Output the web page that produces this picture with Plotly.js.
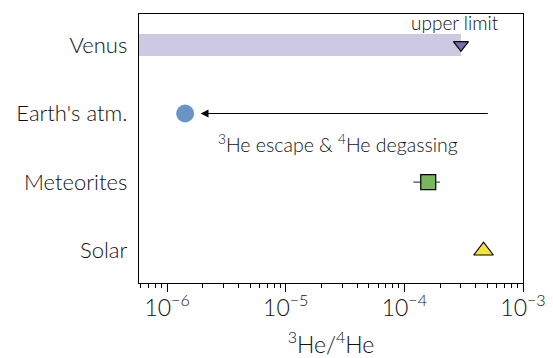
<!DOCTYPE html>
<html><head><meta charset="utf-8">
<script src="https://cdn.plot.ly/plotly-3.0.1.min.js"></script>
<style>body{margin:0;padding:0;background:#fff}#chart{width:553px;height:358px}</style>
</head><body><div id="chart"></div>
<script>
// Data
const categories = ["Solar", "Meteorites", "Earth's atm.", "Venus"];
const venusUpper = 3.0e-4;
const earthValue = 1.42e-6;
const meteoriteValue = 1.59e-4;
const meteoriteLow = 1.19e-4;
const meteoriteHigh = 2.0e-4;
const solarValue = 4.65e-4;
const arrowFrom = 5.2e-4;
const arrowTo = 1.92e-6;
const tickVals = [1e-6, 1e-5, 1e-4, 1e-3];
const tickText = ["10<sup>−6</sup>", "10<sup>−5</sup>", "10<sup>−4</sup>", "10<sup>−3</sup>"];

const yIdx = c => categories.indexOf(c);
const FONT = "Lato, 'Open Sans', sans-serif";
const TXT = "#111";
const W = 300;

const minorVals = [];
for (let e = -7; e <= -4; e++) for (let m = 2; m <= 9; m++) minorVals.push(m * Math.pow(10, e));

const traces = [
  { x: [1e-7, venusUpper], y: [yIdx("Venus"), yIdx("Venus")], mode: "lines",
    line: { color: "#cdc9e3", width: 22 }, hoverinfo: "skip" },
  { x: [venusUpper], y: [yIdx("Venus")], mode: "markers",
    marker: { symbol: "triangle-down", size: 13, color: "#7a6aae", line: { color: "#000", width: 1.2 } } },
  { x: [earthValue], y: [yIdx("Earth's atm.")], mode: "markers",
    marker: { symbol: "circle", size: 18, color: "#6895c6", line: { width: 0 } } },
  { x: [meteoriteValue], y: [yIdx("Meteorites")], mode: "markers",
    error_x: { type: "data", symmetric: false, array: [meteoriteHigh - meteoriteValue],
               arrayminus: [meteoriteValue - meteoriteLow], color: "#444", thickness: 1.2, width: 0 },
    marker: { symbol: "square", size: 15, color: "#7ab75c", line: { color: "#000", width: 1.2 } } },
  { x: [solarValue], y: [yIdx("Solar")], mode: "markers",
    marker: { symbol: "triangle-up", size: 17, color: "#f5e43a", line: { color: "#000", width: 1.2 } } }
];

const layout = {
  width: 553, height: 358,
  margin: { l: 139, r: 30, t: 14, b: 75 },
  paper_bgcolor: "#fff", plot_bgcolor: "#fff",
  showlegend: false,
  font: { family: FONT, color: TXT, weight: W },
  xaxis: {
    type: "log", range: [Math.log10(5.8e-7), -3],
    showgrid: false, zeroline: false,
    showline: true, linecolor: "#000", linewidth: 1.3, mirror: true,
    ticks: "outside", ticklen: 8, tickwidth: 1, tickcolor: "#000",
    tickmode: "array", tickvals: tickVals, ticktext: tickText,
    tickfont: { size: 23, family: FONT, color: TXT, weight: W }, ticklabelstandoff: -4,
    minor: { ticks: "outside", ticklen: 4, tickwidth: 1, tickcolor: "#000", tickmode: "array", tickvals: minorVals, showgrid: false },
    title: { text: "<sup>3</sup>He/<sup>4</sup>He", font: { size: 23, family: FONT, color: TXT, weight: W }, standoff: 22 }
  },
  yaxis: {
    range: [-0.47, 3.45],
    showgrid: false, zeroline: false,
    showline: true, linecolor: "#000", linewidth: 1.3, mirror: true,
    ticks: "", tickmode: "array", tickvals: [0, 1, 2, 3], ticktext: categories,
    tickfont: { size: 22, family: FONT, color: TXT, weight: W }, ticklabelstandoff: 6
  },
  annotations: [
    { x: Math.log10(arrowTo), y: yIdx("Earth's atm."), ax: Math.log10(arrowFrom), ay: yIdx("Earth's atm."),
      xref: "x", yref: "y", axref: "x", ayref: "y", text: "", showarrow: true,
      arrowhead: 2, arrowsize: 1.3, arrowwidth: 1.2, arrowcolor: "#000" },
    { x: Math.log10(venusUpper), y: yIdx("Venus"), xref: "x", yref: "y", text: "upper limit",
      showarrow: false, xshift: -6, yshift: 22, yanchor: "middle", font: { size: 19, family: FONT, color: TXT, weight: W } },
    { x: -4.563, y: yIdx("Earth's atm."), xref: "x", yref: "y", text: "<sup>3</sup>He escape & <sup>4</sup>He degassing",
      showarrow: false, yshift: -30, yanchor: "middle", font: { size: 19.5, family: FONT, color: TXT, weight: W } }
  ]
};

Plotly.newPlot("chart", traces, layout, { displayModeBar: false, staticPlot: true });
</script></body></html>
